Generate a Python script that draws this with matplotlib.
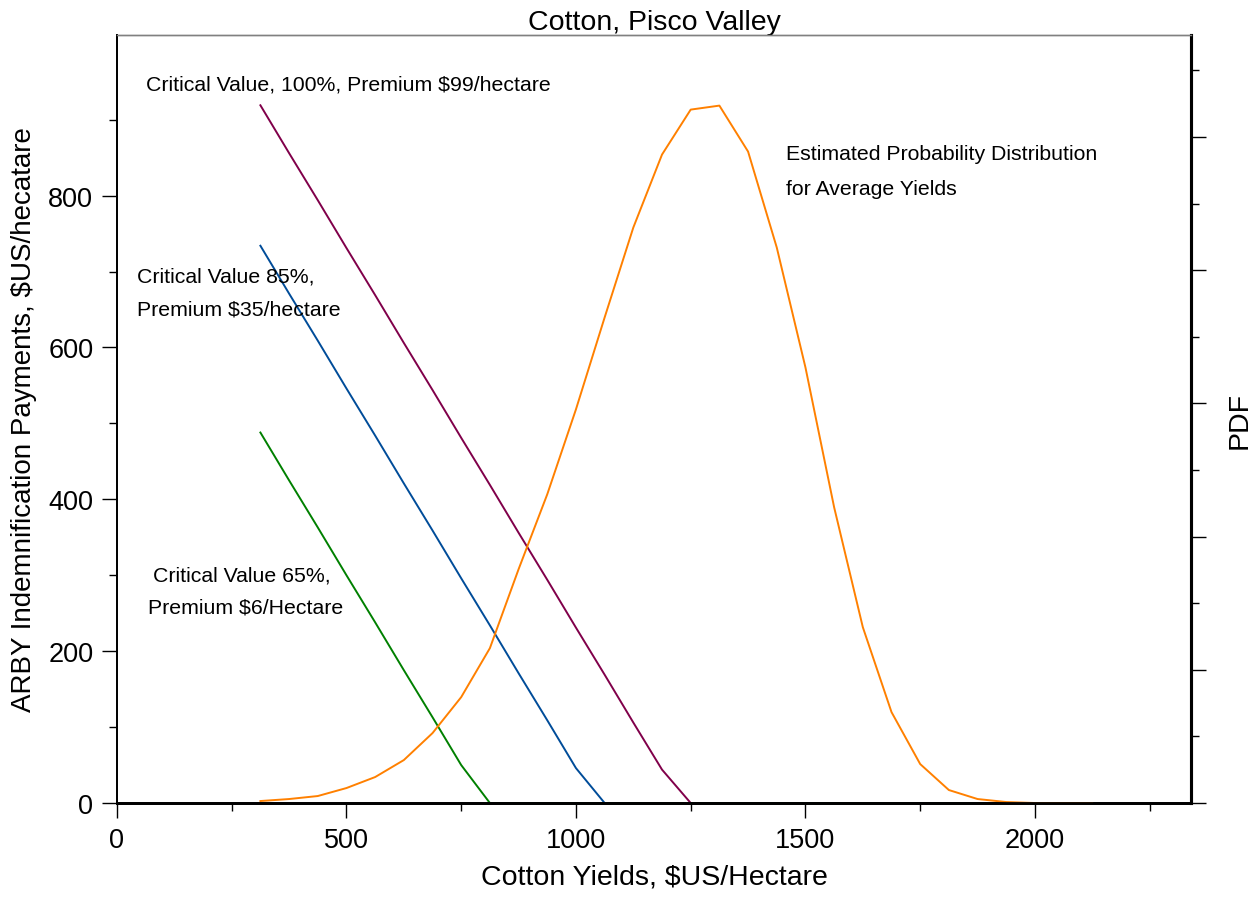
import numpy as np
import matplotlib.pyplot as plt
from matplotlib.ticker import MultipleLocator, FixedLocator, NullFormatter

plt.rcParams['font.family'] = ['Liberation Sans', 'DejaVu Sans']

# Yield grid ($US/hectare)
yields = [312.5, 375, 437.5, 500, 562.5, 625, 687.5, 750, 812.5, 875,
          937.5, 1000, 1062.5, 1125, 1187.5, 1250, 1312.5, 1375, 1437.5, 1500,
          1562.5, 1625, 1687.5, 1750, 1812.5, 1875, 1937.5, 2000, 2062.5, 2125]

# Indemnification payments for each critical value
pay_100 = [919, 856, 794, 731, 669, 606, 544, 481, 419, 356,
           294, 231, 169, 106, 44, 0, 0, 0, 0, 0,
           0, 0, 0, 0, 0, 0, 0, 0, 0, 0]
pay_85 = [734, 671, 609, 546, 484, 421, 359, 296, 234, 171,
          109, 46, 0, 0, 0, 0, 0, 0, 0, 0,
          0, 0, 0, 0, 0, 0, 0, 0, 0, 0]
pay_65 = [488, 425, 363, 300, 238, 175, 113, 50, 0, 0,
          0, 0, 0, 0, 0, 0, 0, 0, 0, 0,
          0, 0, 0, 0, 0, 0, 0, 0, 0, 0]

# Estimated probability density of average yields
pdf = [0.0000030, 0.0000060, 0.0000105, 0.0000225, 0.0000390, 0.0000645,
       0.0001050, 0.0001590, 0.0002325, 0.0003510, 0.0004635, 0.0005910,
       0.0007290, 0.0008640, 0.0009735, 0.0010410, 0.0010470, 0.0009780,
       0.0008340, 0.0006540, 0.0004440, 0.0002640, 0.0001365, 0.0000585,
       0.0000195, 0.0000060, 0.0000015, 0.0, 0.0, 0.0]

fig = plt.figure(figsize=(12.55, 9.03), dpi=100)
ax = fig.add_axes([0.0932, 0.1096, 0.8558, 0.8509])
ax2 = ax.twinx()

ax.plot(yields, pay_100, color='#80004a', lw=1.4)
ax.plot(yields, pay_85, color='#004c99', lw=1.4)
ax.plot(yields, pay_65, color='#008000', lw=1.4)
ax2.plot(yields, pdf, color='#ff8000', lw=1.4)

ax.set_xlim(0, 2340)
ax.set_ylim(0, 1012)
ax2.set_ylim(0, 0.0011535)

ax.xaxis.set_major_locator(MultipleLocator(500))
ax.xaxis.set_minor_locator(MultipleLocator(250))
ax.yaxis.set_major_locator(FixedLocator([0, 200, 400, 600, 800]))
ax.yaxis.set_minor_locator(FixedLocator([100, 300, 500, 700, 900]))
ax2.yaxis.set_major_locator(MultipleLocator(0.0002))
ax2.yaxis.set_minor_locator(MultipleLocator(0.0001))
ax2.yaxis.set_major_formatter(NullFormatter())

ax.tick_params(which='major', direction='out', length=11, width=1, labelsize=19.5, pad=6)
ax.tick_params(which='minor', direction='out', length=6, width=1)
ax2.tick_params(which='major', direction='out', length=11, width=1, pad=0)
ax2.tick_params(which='minor', direction='out', length=6, width=1)

for a in (ax, ax2):
    a.spines['top'].set_color('#808080')
    a.spines['top'].set_linewidth(1)
    a.spines['bottom'].set_linewidth(2)
    a.spines['right'].set_linewidth(2.2)
    a.spines['left'].set_linewidth(1.3)

ax.set_xlabel('Cotton Yields, $US/Hectare', fontsize=20.5, labelpad=8)
ax.set_ylabel('ARBY Indemnification Payments, $US/hecatare', fontsize=20, labelpad=8)
ax.set_title('Cotton, Pisco Valley', fontsize=20.5, pad=3)
# right-hand axis label, placed by hand so it stays inside the figure
fig.text(1240 / 1255, 1 - 420 / 903, 'PDF', fontsize=20.5, rotation=90,
         ha='center', va='center')

fs = 15.3
ax.text(63, 947, 'Critical Value, 100%, Premium $99/hectare', fontsize=fs,
        va='center', ha='left')
ax.text(44, 694, 'Critical Value 85%,', fontsize=fs, va='center', ha='left')
ax.text(44, 651, 'Premium $35/hectare', fontsize=fs, va='center', ha='left')
ax.text(78, 300, 'Critical Value 65%,', fontsize=fs, va='center', ha='left')
ax.text(67, 258, 'Premium $6/Hectare', fontsize=fs, va='center', ha='left')
ax.text(1457, 855, 'Estimated Probability Distribution', fontsize=fs,
        va='center', ha='left')
ax.text(1457, 810, 'for Average Yields', fontsize=fs, va='center', ha='left')

fig.savefig('out.png', dpi=100)
